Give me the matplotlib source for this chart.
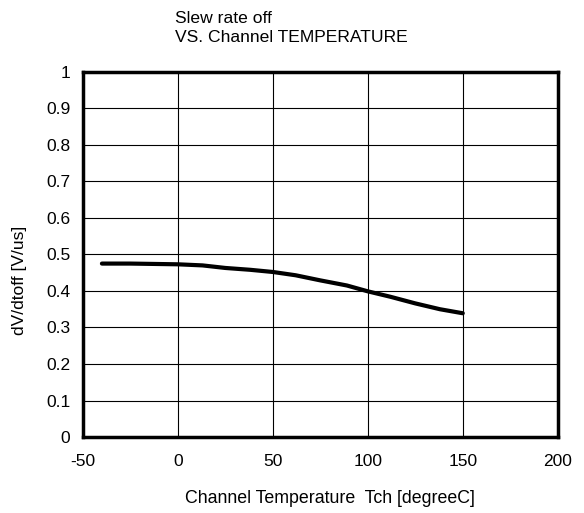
import numpy as np
import matplotlib.pyplot as plt

plt.rcParams['font.family'] = ['Liberation Sans', 'DejaVu Sans']
plt.rcParams['axes.unicode_minus'] = False

# values
temp = [-40, -25, 0, 13, 25, 38, 50, 62, 75, 89, 100, 112, 125, 138, 150]
slew = [0.475, 0.475, 0.473, 0.470, 0.463, 0.458, 0.452, 0.443, 0.429, 0.415, 0.399, 0.384, 0.366, 0.350, 0.339]

xticks = [-50, 0, 50, 100, 150, 200]
yticks = [0, 0.1, 0.2, 0.3, 0.4, 0.5, 0.6, 0.7, 0.8, 0.9, 1]
yticklabels = ["0", "0.1", "0.2", "0.3", "0.4", "0.5", "0.6", "0.7", "0.8", "0.9", "1"]

fig = plt.figure(figsize=(5.84, 5.13), dpi=100)
ax = fig.add_axes([0.142, 0.148, 0.813, 0.712])

ax.plot(temp, slew, color="black", linewidth=3, solid_capstyle="round")

ax.set_xlim(-50, 200)
ax.set_ylim(0, 1)
ax.set_xticks(xticks)
ax.set_yticks(yticks)
ax.set_yticklabels(yticklabels)
ax.tick_params(length=0, labelsize=12.5)
ax.tick_params(axis="x", pad=12)
ax.tick_params(axis="y", pad=9)
ax.grid(True, color="black", linewidth=0.8)
for s in ax.spines.values():
    s.set_linewidth(2.5)

ax.set_xlabel("Channel Temperature  Tch [degreeC]", fontsize=12.8)
ax.xaxis.set_label_coords(0.52, -0.145)
ax.set_ylabel("dV/dtoff [V/us]", fontsize=12.5)
ax.yaxis.set_label_coords(-0.117, 0.43)

fig.text(0.30, 0.978, "Slew rate off\nVS. Channel TEMPERATURE", fontsize=12.6, va="top", ha="left", linespacing=1.35)

fig.savefig("out.png")
